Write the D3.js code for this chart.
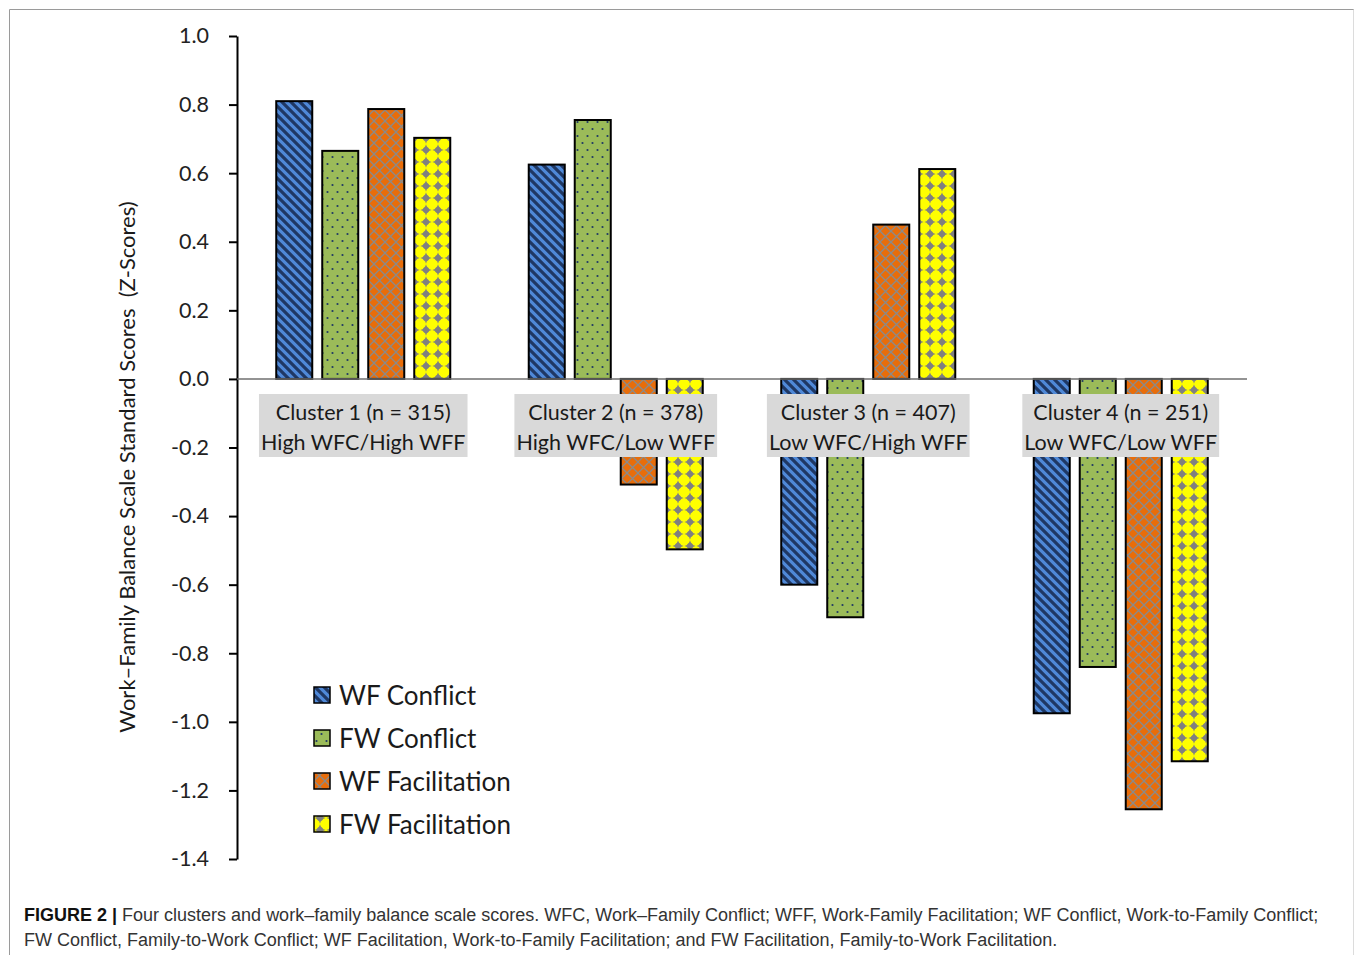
<!DOCTYPE html>
<html>
  <head>
    <meta charset="utf-8">
    <title>Work-Family Balance Clusters</title>
    <style>
      body { margin: 0; background: #fff; }
      .axis path, .axis line { stroke: #000; stroke-width: 2; }
      .axis text { font-family: Lato, "Open Sans", sans-serif; font-size: 21.5px; fill: #222; }
      .chart-text { font-family: Lato, "Open Sans", sans-serif; fill: #1a1a1a; }
      .caption { font-family: "Liberation Sans", Arial, sans-serif; font-size: 18px; fill: #333; }
    </style>
  </head>
  <body>
    <div class="chart"></div>

    <script src="https://d3js.org/d3.v7.min.js"></script>
    <script>
      // Data
      const clusters = ["Cluster 1", "Cluster 2", "Cluster 3", "Cluster 4"];
      const clusterLines = [
        ["Cluster 1 (n = 315)", "High WFC/High WFF"],
        ["Cluster 2 (n = 378)", "High WFC/Low WFF"],
        ["Cluster 3 (n = 407)", "Low WFC/High WFF"],
        ["Cluster 4 (n = 251)", "Low WFC/Low WFF"]
      ];
      const series = ["WF Conflict", "FW Conflict", "WF Facilitation", "FW Facilitation"];
      const wfConflict      = [0.81, 0.625, -0.60, -0.975];
      const fwConflict      = [0.665, 0.755, -0.695, -0.84];
      const wfFacilitation  = [0.787, -0.308, 0.45, -1.255];
      const fwFacilitation  = [0.703, -0.497, 0.612, -1.115];
      const tickValues = [1.0, 0.8, 0.6, 0.4, 0.2, 0.0, -0.2, -0.4, -0.6, -0.8, -1.0, -1.2, -1.4];
      const tickLabels = ["1.0", "0.8", "0.6", "0.4", "0.2", "0.0", "-0.2", "-0.4", "-0.6", "-0.8", "-1.0", "-1.2", "-1.4"];

      const seriesValues = [wfConflict, fwConflict, wfFacilitation, fwFacilitation];
      const data = [];
      clusters.forEach((c, i) => {
        series.forEach((s, j) => data.push({ cluster: c, series: s, value: seriesValues[j][i] }));
      });

      const W = 1355, H = 955;
      const plot = { left: 237, right: 1247, top: 36, bottom: 859 };

      const svg = d3.select(".chart")
        .append("svg")
        .attr("width", W)
        .attr("height", H);

      // Patterns for the bars
      const defs = svg.append("defs");

      const pBlue = defs.append("pattern").attr("id", "p-blue")
        .attr("patternUnits", "userSpaceOnUse").attr("width", 9).attr("height", 9);
      pBlue.append("rect").attr("width", 9).attr("height", 9).attr("fill", "#4f89d8");
      pBlue.append("path").attr("d", "M-2,-2 L11,11 M-2,7 L2,11 M7,-2 L11,2")
        .attr("stroke", "#1f3864").attr("stroke-width", 3.2);

      const pGreen = defs.append("pattern").attr("id", "p-green")
        .attr("patternUnits", "userSpaceOnUse").attr("width", 10).attr("height", 14);
      pGreen.append("rect").attr("width", 10).attr("height", 14).attr("fill", "#9bbb59");
      pGreen.append("circle").attr("cx", 2.5).attr("cy", 3).attr("r", 1.1).attr("fill", "#1f3864");
      pGreen.append("circle").attr("cx", 7.5).attr("cy", 10).attr("r", 1.1).attr("fill", "#1f3864");

      const pOrange = defs.append("pattern").attr("id", "p-orange")
        .attr("patternUnits", "userSpaceOnUse").attr("width", 11).attr("height", 11);
      pOrange.append("rect").attr("width", 11).attr("height", 11).attr("fill", "#e86d0a");
      pOrange.append("path").attr("d", "M0,0 L11,11 M11,0 L0,11")
        .attr("stroke", "#8a8a8a").attr("stroke-width", 1.3);

      const pYellow = defs.append("pattern").attr("id", "p-yellow")
        .attr("patternUnits", "userSpaceOnUse").attr("width", 12).attr("height", 12);
      pYellow.append("rect").attr("width", 12).attr("height", 12).attr("fill", "#ffff00");
      pYellow.append("path")
        .attr("d", "M6,0.3 Q7,5 11.7,6 Q7,7 6,11.7 Q5,7 0.3,6 Q5,5 6,0.3 Z")
        .attr("fill", "#808080");
      pYellow.append("circle").attr("cx", 6).attr("cy", 6).attr("r", 3).attr("fill", "#808080");

      const fills = {
        "WF Conflict": "url(#p-blue)",
        "FW Conflict": "url(#p-green)",
        "WF Facilitation": "url(#p-orange)",
        "FW Facilitation": "url(#p-yellow)"
      };

      // Frame around the figure
      svg.append("line").attr("x1", 9.5).attr("y1", 9.5).attr("x2", 1354).attr("y2", 9.5)
        .attr("stroke", "#9a9a9a").attr("stroke-width", 1);
      svg.append("line").attr("x1", 9.5).attr("y1", 9.5).attr("x2", 9.5).attr("y2", H)
        .attr("stroke", "#9a9a9a").attr("stroke-width", 1);
      svg.append("line").attr("x1", 1353.5).attr("y1", 9.5).attr("x2", 1353.5).attr("y2", H)
        .attr("stroke", "#dcdcdc").attr("stroke-width", 1);

      // Scales
      const y = d3.scaleLinear().domain([-1.4, 1.0]).range([plot.bottom, plot.top]);
      const x0 = d3.scaleBand().domain(clusters).range([plot.left, plot.right]).padding(0);
      const x1 = d3.scaleBand().domain(series).range([0, x0.bandwidth()])
        .paddingInner(0.217).paddingOuter(0.853);

      // Y axis
      const yAxis = d3.axisLeft(y)
        .tickValues(tickValues)
        .tickFormat((d, i) => tickLabels[i])
        .tickSize(8)
        .tickSizeOuter(0)
        .tickPadding(20);

      svg.append("g")
        .attr("class", "axis")
        .attr("transform", `translate(${plot.left},0)`)
        .call(yAxis);

      svg.append("text")
        .attr("class", "chart-text")
        .attr("transform", "translate(135,467) rotate(-90)")
        .attr("text-anchor", "middle")
        .attr("font-size", 22)
        .attr("xml:space", "preserve")
        .text("Work\u2013Family Balance Scale Standard Scores  (Z-Scores)");

      // Bars
      svg.append("g").selectAll("rect")
        .data(data)
        .join("rect")
        .attr("x", d => x0(d.cluster) + x1(d.series))
        .attr("y", d => y(Math.max(0, d.value)))
        .attr("width", x1.bandwidth())
        .attr("height", d => Math.abs(y(d.value) - y(0)))
        .attr("fill", d => fills[d.series])
        .attr("stroke", "#000")
        .attr("stroke-width", 2);

      // Zero line
      svg.append("line")
        .attr("x1", plot.left).attr("x2", plot.right)
        .attr("y1", y(0)).attr("y2", y(0))
        .attr("stroke", "#6f6f6f").attr("stroke-width", 1.5);

      // Cluster labels with grey boxes
      const labels = svg.append("g").selectAll("g")
        .data(clusters)
        .join("g")
        .attr("transform", d => `translate(${x0(d) + x0.bandwidth() / 2},0)`);

      const boxes = labels.append("rect").attr("fill", "#d9d9d9");
      const labelText = labels.append("text")
        .attr("class", "chart-text")
        .attr("text-anchor", "middle")
        .attr("font-size", 21.5);
      labelText.selectAll("tspan")
        .data((d, i) => clusterLines[i])
        .join("tspan")
        .attr("x", 0)
        .attr("y", (d, i) => 420 + i * 30)
        .text(d => d);
      boxes.each(function () {
        const bb = this.parentNode.querySelector("text").getBBox();
        d3.select(this)
          .attr("x", bb.x - 2).attr("width", bb.width + 4)
          .attr("y", 394).attr("height", 63);
      });

      // Legend
      const legend = svg.append("g").selectAll("g")
        .data(series)
        .join("g")
        .attr("transform", (d, i) => `translate(314,${695 + i * 43})`);
      legend.append("rect")
        .attr("x", 0).attr("y", -8).attr("width", 16).attr("height", 16)
        .attr("fill", d => fills[d])
        .attr("stroke", "#000").attr("stroke-width", 1.5);
      legend.append("text")
        .attr("class", "chart-text")
        .attr("x", 25).attr("y", 10)
        .attr("font-size", 26)
        .text(d => d);

      // Caption
      const cap1 = svg.append("text").attr("class", "caption").attr("x", 24).attr("y", 921)
        .attr("xml:space", "preserve");
      cap1.append("tspan").attr("font-weight", "bold").attr("fill", "#111").text("FIGURE 2 ");
      cap1.append("tspan").attr("font-weight", "bold").attr("fill", "#111").text("|");
      cap1.append("tspan")
        .text(" Four clusters and work\u2013family balance scale scores. WFC, Work\u2013Family Conflict; WFF, Work-Family Facilitation; WF Conflict, Work-to-Family Conflict;");
      svg.append("text").attr("class", "caption").attr("x", 24).attr("y", 946)
        .text("FW Conflict, Family-to-Work Conflict; WF Facilitation, Work-to-Family Facilitation; and FW Facilitation, Family-to-Work Facilitation.");
    </script>
  </body>
</html>
